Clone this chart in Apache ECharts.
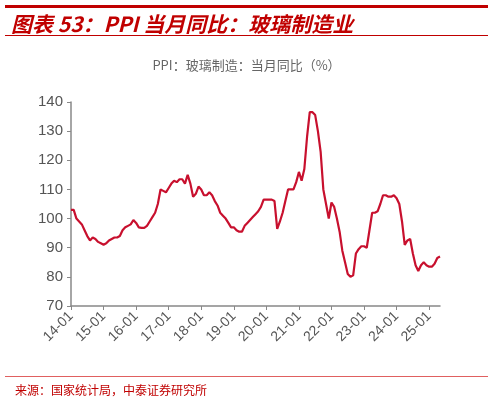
<!DOCTYPE html>
<html>
<head>
<meta charset="utf-8">
<script src="https://cdn.jsdelivr.net/npm/echarts@6/dist/echarts.min.js"></script>
<style>html,body{margin:0;padding:0;background:#fff}#main{width:493px;height:400px}</style>
</head>
<body>
<div id="main"></div>
<script>
// 月度数据 14-01 ~ 25-05
const years = ['14','15','16','17','18','19','20','21','22','23','24','25']
const categories = []
years.forEach(y => { for (let m = 1; m <= 12; m++) { if (y === '25' && m > 5) break; categories.push(y + '-' + String(m).padStart(2, '0')) } })

const values = [
  103, 103, 100, 99, 98, 96, 94, 92.5, 93.5, 93, 92, 91.5,
  91, 91.5, 92.5, 93, 93.5, 93.5, 94, 96, 97, 97.5, 98, 99.5,
  98.5, 97, 96.8, 96.8, 97.5, 99, 100.5, 102, 105, 110, 109.5, 109,
  110.5, 112, 113, 112.5, 113.5, 113.5, 112, 115, 112, 107.5, 108.5, 111,
  110, 108, 108, 109, 108, 106, 104.5, 102, 101, 100, 98.5, 97,
  97, 96, 95.5, 95.5, 97.5, 98.5, 99.5, 100.5, 101.5, 102.5, 104, 106.5,
  106.5, 106.5, 106.5, 106, 96.5, 99, 102, 106, 110, 110, 110, 112.5,
  116, 113, 117, 128, 136.5, 136.5, 135.5, 130, 123, 110, 105, 100,
  105.5, 104, 100, 95.5, 89, 85, 81, 80, 80.5, 88, 89.5, 90.5,
  90.5, 90, 96, 102, 102, 102.5, 105, 108, 108, 107.5, 107.5, 108,
  107, 105, 99, 91, 92.5, 93, 88, 84, 82, 84, 85, 84,
  83.5, 83.5, 84.5, 86.5, 87
]

const chart = echarts.init(document.getElementById('main'))
chart.setOption({
  animation: false,
  title: [
    { text: '图表 53：PPI 当月同比：玻璃制造业', left: 6, top: 9,
      textStyle: { color: '#c00000', fontSize: 21, fontWeight: 'bold', fontStyle: 'italic', fontFamily: 'Noto Sans CJK SC' } },
    { text: 'PPI：玻璃制造：当月同比（%）', left: 'center', top: 54,
      textStyle: { color: '#666', fontSize: 13, fontWeight: 'normal', fontFamily: 'Noto Sans CJK SC' } },
    { text: '来源：国家统计局，中泰证券研究所', left: 10, top: 379,
      textStyle: { color: '#c00000', fontSize: 12, fontWeight: 'normal', fontFamily: 'Noto Sans CJK SC' } }
  ],
  graphic: [
    { type: 'rect', shape: { x: 5, y: 5, width: 483, height: 3 }, style: { fill: '#c00000' } },
    { type: 'rect', shape: { x: 5, y: 35, width: 483, height: 1 }, style: { fill: '#c00000' } },
    { type: 'rect', shape: { x: 5, y: 376, width: 483, height: 1 }, style: { fill: '#e06060' } }
  ],
  grid: { left: 71, right: 53, top: 102, bottom: 94 },
  xAxis: {
    type: 'category', data: categories, boundaryGap: false,
    axisLine: { lineStyle: { color: '#888', width: 1.5 } },
    axisTick: { interval: (i) => i % 12 === 0, length: 4, lineStyle: { color: '#888' } },
    axisLabel: { interval: (i) => i % 12 === 0, rotate: 45, color: '#555', fontSize: 14, fontFamily: 'Liberation Sans', margin: 8 }
  },
  yAxis: {
    type: 'value', min: 70, max: 140, interval: 10,
    axisLine: { show: true, lineStyle: { color: '#888', width: 1.5 } },
    axisTick: { show: true, length: 4, lineStyle: { color: '#888' } },
    splitLine: { show: false },
    axisLabel: { color: '#555', fontSize: 15, fontFamily: 'Liberation Sans' }
  },
  series: [{
    type: 'line', data: values, showSymbol: false,
    lineStyle: { color: '#c8102e', width: 2.2 }
  }]
})
</script>
</body>
</html>
